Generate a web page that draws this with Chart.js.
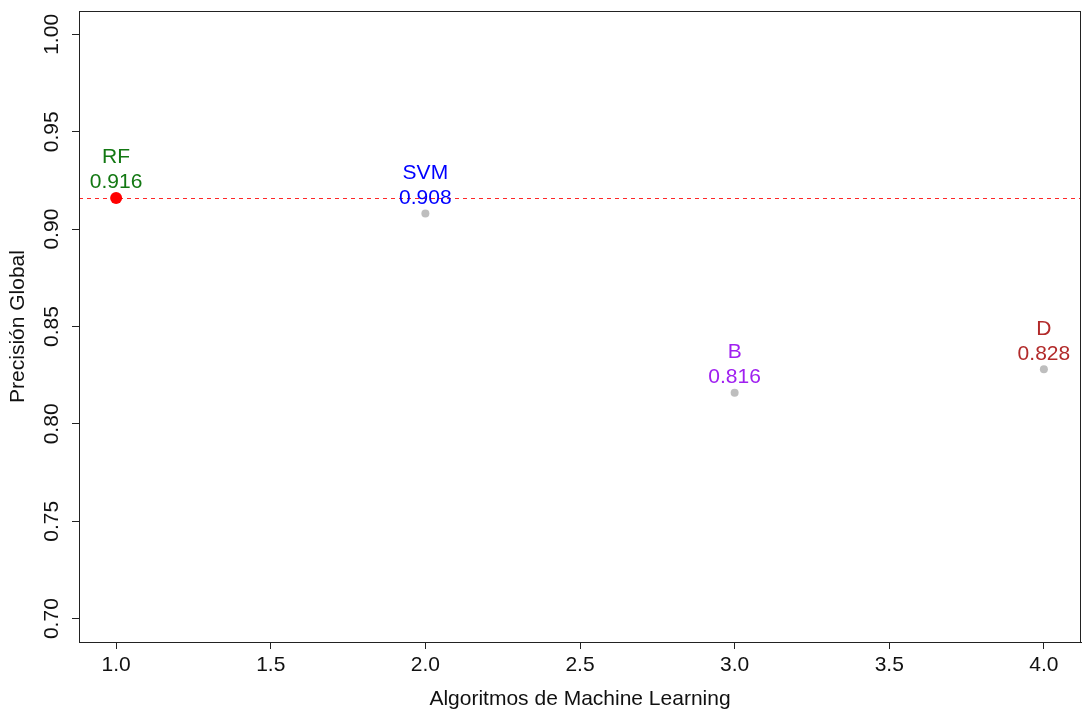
<!DOCTYPE html>
<html>
<head>
<meta charset="utf-8">
<script src="https://cdn.jsdelivr.net/npm/chart.js@4.4.1/dist/chart.umd.min.js"></script>
<style>
  html, body { margin: 0; padding: 0; background: #ffffff; }
  #wrap { width: 1082px; height: 710px; position: relative; }
</style>
</head>
<body>
<div id="wrap"><canvas id="c"></canvas></div>
<script>
// ---- data ----
const algorithms = ['RF', 'SVM', 'B', 'D'];
const algorithmIndex = [1, 2, 3, 4];
const accuracy = [0.916, 0.908, 0.816, 0.828];
const accuracyLabels = ['0.916', '0.908', '0.816', '0.828'];
const bestAccuracy = 0.916;
const xTickValues = [1.0, 1.5, 2.0, 2.5, 3.0, 3.5, 4.0];
const xTickLabels = ['1.0', '1.5', '2.0', '2.5', '3.0', '3.5', '4.0'];
const yTickValues = [0.70, 0.75, 0.80, 0.85, 0.90, 0.95, 1.00];
const yTickLabels = ['0.70', '0.75', '0.80', '0.85', '0.90', '0.95', '1.00'];
const xTitle = 'Algoritmos de Machine Learning';
const yTitle = 'Precisión Global';

// ---- styles ----
const labelColors = ['#137813', '#0000FF', '#A020F0', '#B22A2A'];
const pointColors = ['#FF0000', '#BEBEBE', '#BEBEBE', '#BEBEBE'];
const pointRadii = [6, 4, 4, 4];
const FONT = '21px "Liberation Sans", Arial, sans-serif';
const AXIS_COLOR = '#222222';

const points = algorithmIndex.map((x, i) => ({ x: x, y: accuracy[i] }));

const decorPlugin = {
  id: 'decor',
  beforeDatasetsDraw(chart) {
    const { ctx, chartArea, scales } = chart;
    const yPix = Math.round(scales.y.getPixelForValue(bestAccuracy)) + 0.5;
    ctx.save();
    ctx.strokeStyle = 'rgba(255,40,40,1)';
    ctx.lineWidth = 1;
    ctx.setLineDash([4, 4]);
    ctx.beginPath();
    ctx.moveTo(chartArea.left, yPix);
    ctx.lineTo(chartArea.right, yPix);
    ctx.stroke();
    ctx.restore();
  },
  afterDraw(chart) {
    const { ctx, chartArea, scales } = chart;
    ctx.save();
    // box
    ctx.strokeStyle = AXIS_COLOR;
    ctx.lineWidth = 1;
    ctx.strokeRect(chartArea.left + 0.5, chartArea.top + 0.5,
                   chartArea.right - chartArea.left - 1, chartArea.bottom - chartArea.top);
    ctx.font = FONT;
    ctx.textAlign = 'center';
    ctx.textBaseline = 'middle';
    // y tick labels rotated
    ctx.fillStyle = '#111111';
    yTickValues.forEach((v, i) => {
      const py = scales.y.getPixelForValue(v);
      ctx.save();
      ctx.translate(52, py);
      ctx.rotate(-Math.PI / 2);
      ctx.fillText(yTickLabels[i], 0, 0);
      ctx.restore();
    });
    // titles
    ctx.fillText(xTitle, (chartArea.left + chartArea.right) / 2, 699);
    ctx.save();
    ctx.translate(18, (chartArea.top + chartArea.bottom) / 2);
    ctx.rotate(-Math.PI / 2);
    ctx.fillText(yTitle, 0, 0);
    ctx.restore();
    // point labels
    points.forEach((p, i) => {
      const px = scales.x.getPixelForValue(p.x);
      const py = scales.y.getPixelForValue(p.y);
      ctx.fillStyle = labelColors[i];
      ctx.fillText(accuracyLabels[i], px, py - 15.5);
      ctx.fillText(algorithms[i], px, py - 40.5);
    });
    ctx.restore();
  }
};

new Chart(document.getElementById('c'), {
  type: 'scatter',
  data: {
    datasets: [{
      data: points,
      backgroundColor: pointColors,
      borderColor: pointColors,
      borderWidth: 0,
      pointRadius: pointRadii,
      pointHoverRadius: pointRadii,
      clip: false
    }]
  },
  options: {
    responsive: true,
    maintainAspectRatio: false,
    animation: false,
    devicePixelRatio: 1,
    layout: { autoPadding: false, padding: { top: 11, right: 1, left: 0, bottom: 0 } },
    plugins: { legend: { display: false }, tooltip: { enabled: false } },
    scales: {
      x: {
        type: 'linear',
        min: 0.88,
        max: 4.12,
        afterBuildTicks: (s) => { s.ticks = xTickValues.map(v => ({ value: v })); },
        afterFit: (s) => { s.height = 68; s.paddingLeft = 0; s.paddingRight = 0; },
        grid: { drawOnChartArea: false, drawTicks: true, tickLength: 7, color: AXIS_COLOR, tickColor: AXIS_COLOR },
        border: { display: true, color: AXIS_COLOR },
        ticks: {
          padding: 4,
          color: '#111111',
          font: { family: '"Liberation Sans", Arial, sans-serif', size: 21 },
          maxRotation: 0,
          minRotation: 0,
          callback: (v) => { const k = xTickValues.indexOf(v); return k >= 0 ? xTickLabels[k] : ''; }
        }
      },
      y: {
        type: 'linear',
        min: 0.688,
        max: 1.012,
        afterBuildTicks: (s) => { s.ticks = yTickValues.map(v => ({ value: v })); },
        afterFit: (s) => { s.width = 79; s.paddingTop = 0; s.paddingBottom = 0; },
        grid: { drawOnChartArea: false, drawTicks: true, tickLength: 7, color: AXIS_COLOR, tickColor: AXIS_COLOR },
        border: { display: true, color: AXIS_COLOR },
        ticks: { display: false }
      }
    }
  },
  plugins: [decorPlugin]
});
</script>
</body>
</html>
